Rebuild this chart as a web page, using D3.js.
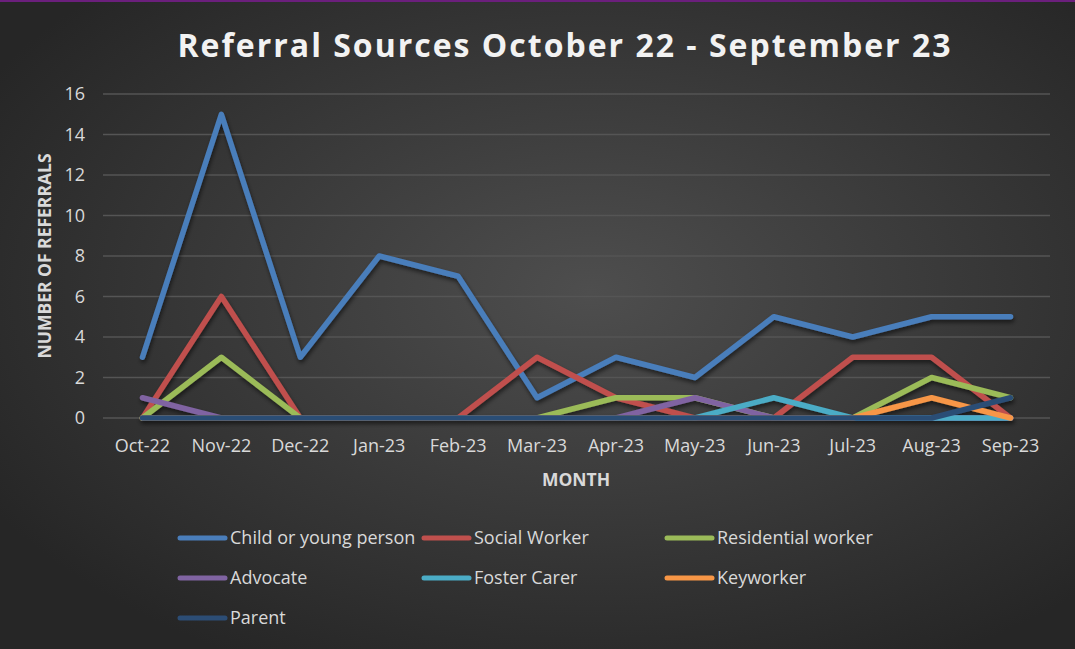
<!DOCTYPE html>
<html>
<head>
<meta charset="utf-8">
<script src="https://cdn.jsdelivr.net/npm/d3@7"></script>
<style>
  html, body { margin: 0; padding: 0; background: #333; }
  svg { display: block; }
</style>
</head>
<body>
<div id="chart"></div>
<script>
// chart data
var months = ["Oct-22", "Nov-22", "Dec-22", "Jan-23", "Feb-23", "Mar-23", "Apr-23", "May-23", "Jun-23", "Jul-23", "Aug-23", "Sep-23"];
var seriesNames = ["Child or young person", "Social Worker", "Residential worker", "Advocate", "Foster Carer", "Keyworker", "Parent"];
var childValues = [3, 15, 3, 8, 7, 1, 3, 2, 5, 4, 5, 5];
var socialValues = [0, 6, 0, 0, 0, 3, 1, 0, 0, 3, 3, 0];
var residentialValues = [0, 3, 0, 0, 0, 0, 1, 1, 0, 0, 2, 1];
var advocateValues = [1, 0, 0, 0, 0, 0, 0, 1, 0, 0, 0, 0];
var fosterValues = [0, 0, 0, 0, 0, 0, 0, 0, 1, 0, 0, 0];
var keyworkerValues = [0, 0, 0, 0, 0, 0, 0, 0, 0, 0, 1, 0];
var parentValues = [0, 0, 0, 0, 0, 0, 0, 0, 0, 0, 0, 1];
var yTicks = [0, 2, 4, 6, 8, 10, 12, 14, 16];

var colors = ["#4a7ebb", "#c0504d", "#9bbb59", "#8064a2", "#4bacc6", "#f79646", "#2c4d75"];
var allValues = [childValues, socialValues, residentialValues, advocateValues, fosterValues, keyworkerValues, parentValues];

var width = 1075, height = 649;
var margin = { left: 103, right: 25, top: 94, bottom: 231 };

var svg = d3.select("#chart").append("svg")
  .attr("width", width)
  .attr("height", height);

var defs = svg.append("defs");
var grad = defs.append("radialGradient")
  .attr("id", "bg")
  .attr("cx", "55%").attr("cy", "45%").attr("r", "65%");
grad.append("stop").attr("offset", "0%").attr("stop-color", "#4e4e4e");
grad.append("stop").attr("offset", "100%").attr("stop-color", "#262626");

var shadow = defs.append("filter").attr("id", "shadow")
  .attr("x", "-5%").attr("y", "-20%").attr("width", "110%").attr("height", "140%");
shadow.append("feDropShadow")
  .attr("dx", 1).attr("dy", 3).attr("stdDeviation", 2)
  .attr("flood-color", "#000").attr("flood-opacity", 0.55);

svg.append("rect")
  .attr("width", width).attr("height", height)
  .attr("fill", "url(#bg)");

// purple top border
svg.append("rect")
  .attr("x", 0).attr("y", 0).attr("width", width).attr("height", 2)
  .attr("fill", "#6b1f7c");

var x = d3.scalePoint()
  .domain(months)
  .range([margin.left, width - margin.right])
  .padding(0.5);

var y = d3.scaleLinear()
  .domain([0, 16])
  .range([height - margin.bottom, margin.top]);

// gridlines
svg.append("g")
  .selectAll("line")
  .data(yTicks)
  .enter()
  .append("line")
  .attr("x1", margin.left)
  .attr("x2", width - margin.right)
  .attr("y1", d => y(d))
  .attr("y2", d => y(d))
  .attr("stroke", "#555")
  .attr("stroke-width", 1.5);

// y axis labels
svg.append("g")
  .selectAll("text")
  .data(yTicks)
  .enter()
  .append("text")
  .attr("x", 85)
  .attr("y", d => y(d) + 6)
  .attr("text-anchor", "end")
  .attr("fill", "#d9d9d9")
  .style("font-family", "'Open Sans', sans-serif")
  .style("font-size", "18px")
  .text(d => d);

// x axis labels
svg.append("g")
  .selectAll("text")
  .data(months)
  .enter()
  .append("text")
  .attr("x", d => x(d))
  .attr("y", 452)
  .attr("text-anchor", "middle")
  .attr("fill", "#d9d9d9")
  .style("font-family", "'Open Sans', sans-serif")
  .style("font-size", "18px")
  .text(d => d);

// title
svg.append("text")
  .attr("x", 565)
  .attr("y", 57)
  .attr("text-anchor", "middle")
  .attr("fill", "#f2f2f2")
  .style("font-family", "'Open Sans', sans-serif")
  .style("font-weight", "bold")
  .style("font-size", "32px")
  .style("letter-spacing", "2px")
  .text("Referral Sources October 22 - September 23");

// axis titles
svg.append("text")
  .attr("transform", "translate(51,256) rotate(-90)")
  .attr("text-anchor", "middle")
  .attr("fill", "#d9d9d9")
  .style("font-family", "'Open Sans', sans-serif")
  .style("font-weight", "bold")
  .style("font-size", "17.5px")
  .text("NUMBER OF REFERRALS");

svg.append("text")
  .attr("x", 576)
  .attr("y", 486)
  .attr("text-anchor", "middle")
  .attr("fill", "#d9d9d9")
  .style("font-family", "'Open Sans', sans-serif")
  .style("font-weight", "bold")
  .style("font-size", "17.5px")
  .text("MONTH");

// lines
var line = d3.line()
  .x((d, i) => x(months[i]))
  .y(d => y(d));

svg.append("g")
  .attr("filter", "url(#shadow)")
  .selectAll("path")
  .data(allValues)
  .enter()
  .append("path")
  .attr("d", line)
  .attr("fill", "none")
  .attr("stroke", (d, i) => colors[i])
  .attr("stroke-width", 5.5)
  .attr("stroke-linejoin", "round")
  .attr("stroke-linecap", "round");

// legend
var legendCols = [178, 422, 665];
var legendRows = [538, 578, 618];
var legend = svg.append("g")
  .selectAll("g")
  .data(seriesNames)
  .enter()
  .append("g")
  .attr("transform", (d, i) => "translate(" + legendCols[i % 3] + "," + legendRows[Math.floor(i / 3)] + ")");

legend.append("line")
  .attr("x1", 2).attr("x2", 47)
  .attr("y1", 0).attr("y2", 0)
  .attr("stroke", (d, i) => colors[i])
  .attr("stroke-width", 5)
  .attr("stroke-linecap", "round");

legend.append("text")
  .attr("x", 52)
  .attr("y", 6)
  .attr("fill", "#d9d9d9")
  .style("font-family", "'Open Sans', sans-serif")
  .style("font-size", "18px")
  .text(d => d);
</script>
</body>
</html>
